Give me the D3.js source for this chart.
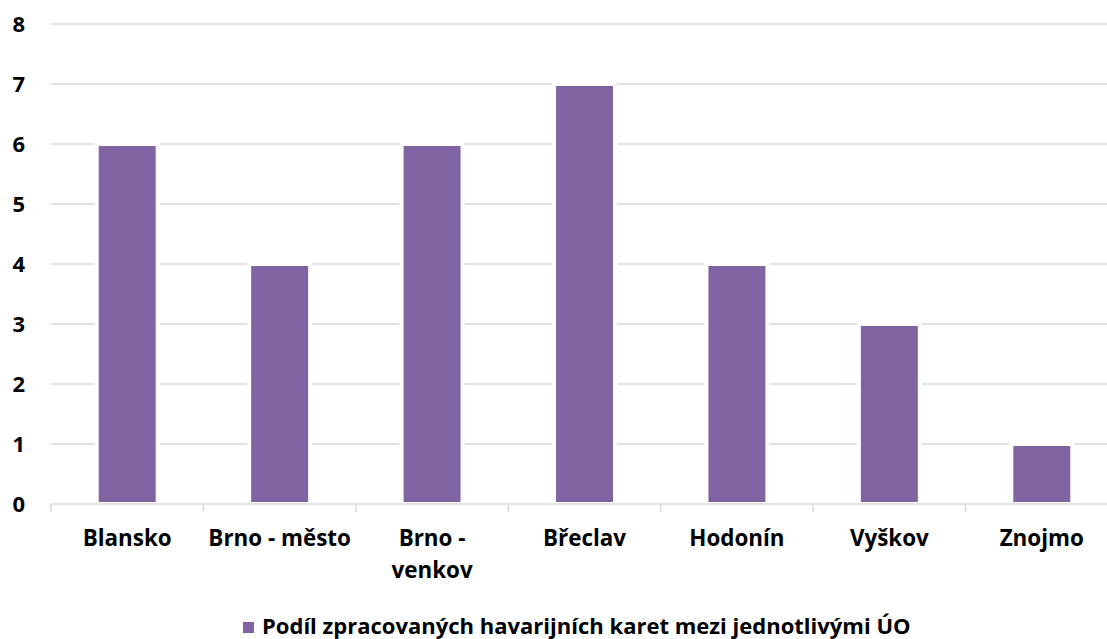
<!DOCTYPE html>
<html>
<head>
<meta charset="utf-8">
<script src="https://cdn.jsdelivr.net/npm/d3@7"></script>
<style>
  body { margin: 0; background: #fff; }
  text { font-family: "Open Sans", Lato, sans-serif; font-weight: bold; fill: #000; }
</style>
</head>
<body>
<div id="chart"></div>
<script>
const categories = ["Blansko", "Brno - město", "Brno - venkov", "Břeclav", "Hodonín", "Vyškov", "Znojmo"];
const values = [6, 4, 6, 7, 4, 3, 1];
const yTicks = [0, 1, 2, 3, 4, 5, 6, 7, 8];
const seriesName = "Podíl zpracovaných havarijních karet mezi jednotlivými ÚO";

const width = 1107;
const height = 639;
const barColor = "#8064A2";
const gridColor = "#D9D9D9";

const svg = d3.select("#chart")
    .append("svg")
    .attr("width", width)
    .attr("height", height);

const x = d3.scaleBand()
    .domain(categories)
    .range([51, 1118])
    .padding(0);

const y = d3.scaleLinear()
    .domain([0, 8])
    .range([504, 24]);

// gridlines
svg.append("g")
    .selectAll("line")
    .data(yTicks.filter(d => d > 0))
    .join("line")
    .attr("x1", 51)
    .attr("x2", width)
    .attr("y1", d => y(d))
    .attr("y2", d => y(d))
    .attr("stroke", gridColor)
    .attr("stroke-width", 1.5);

// y labels
svg.append("g")
    .selectAll("text")
    .data(yTicks)
    .join("text")
    .attr("x", 25)
    .attr("y", d => y(d))
    .attr("dy", "0.36em")
    .attr("text-anchor", "end")
    .style("font-size", "22px")
    .text(d => d);

// bars, white outline like the original
const barW = x.bandwidth() * 0.4;
svg.append("g")
    .selectAll("rect")
    .data(values)
    .join("rect")
    .attr("x", (d, i) => x(categories[i]) + (x.bandwidth() - barW) / 2)
    .attr("y", d => y(d))
    .attr("width", barW)
    .attr("height", d => y(0) - y(d))
    .attr("fill", barColor)
    .attr("stroke", "#fff")
    .attr("stroke-width", 4);

// x axis line and ticks
svg.append("line")
    .attr("x1", 51).attr("x2", width)
    .attr("y1", y(0)).attr("y2", y(0))
    .attr("stroke", gridColor)
    .attr("stroke-width", 1.5);

svg.append("g")
    .selectAll("line")
    .data(categories)
    .join("line")
    .attr("x1", d => x(d)).attr("x2", d => x(d))
    .attr("y1", y(0)).attr("y2", y(0) + 8)
    .attr("stroke", gridColor)
    .attr("stroke-width", 1.5);

// category labels, wrapped when too wide
const labels = svg.append("g")
    .selectAll("text")
    .data(categories)
    .join("text")
    .attr("x", d => x(d) + x.bandwidth() / 2)
    .attr("y", 546)
    .attr("text-anchor", "middle")
    .style("font-size", "22.4px")
    .text(d => d);

labels.each(function(d) {
    const t = d3.select(this);
    if (this.getComputedTextLength() > 146) {
        const words = d.split(" ");
        const second = words.pop();
        t.text(null);
        t.append("tspan").attr("x", x(d) + x.bandwidth() / 2).text(words.join(" "));
        t.append("tspan").attr("x", x(d) + x.bandwidth() / 2).attr("dy", 32).text(second);
    }
});

// legend
const legend = svg.append("g");
legend.append("rect")
    .attr("y", 1)
    .attr("width", 11)
    .attr("height", 11)
    .attr("fill", barColor);
const legendText = legend.append("text")
    .attr("x", 19)
    .attr("y", 13)
    .style("font-size", "20px")
    .text(seriesName);
// scale legend text to the width it has in the original
const tw = legendText.node().getComputedTextLength();
legendText.style("font-size", (20 * 649 / tw) + "px");
legend.attr("transform", "translate(243,621)");
</script>
</body>
</html>
